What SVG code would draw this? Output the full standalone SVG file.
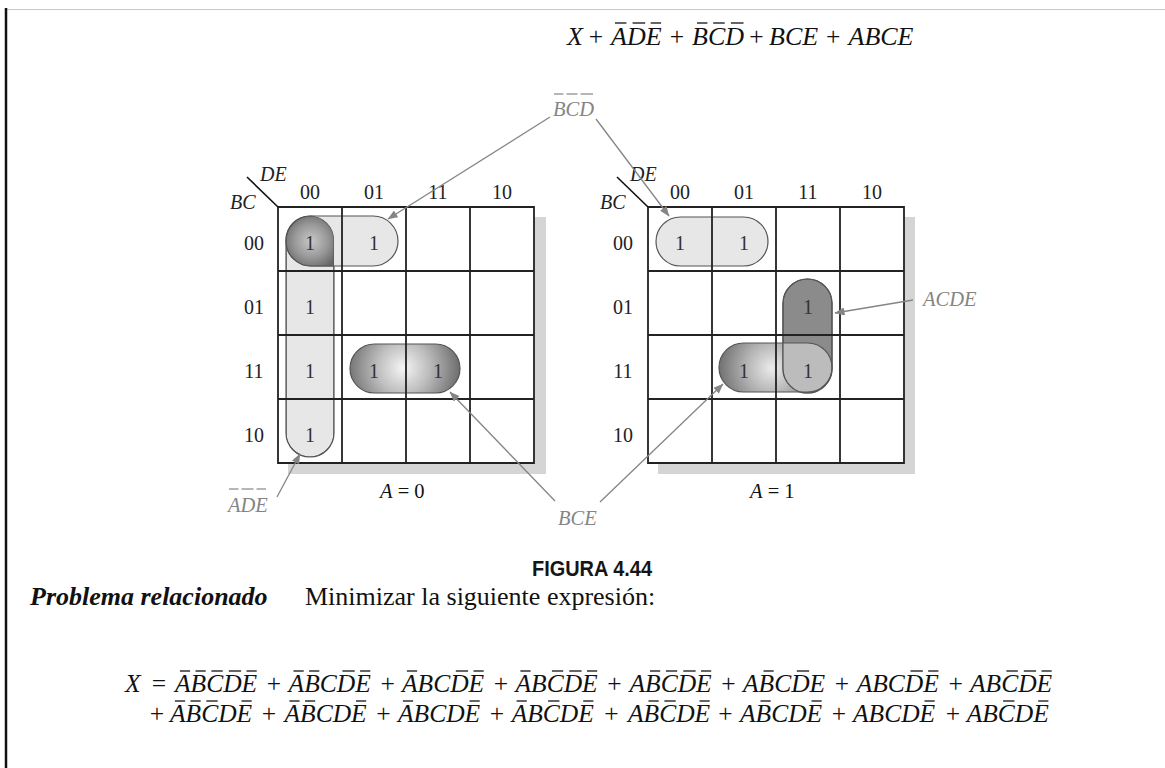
<svg xmlns="http://www.w3.org/2000/svg" width="1165" height="768" viewBox="0 0 1165 768">
<style>
.serif{font-family:"Liberation Serif","Times New Roman",serif;}
.eq{font-family:"Liberation Serif","Times New Roman",serif;font-style:italic;font-size:25.5px;fill:#111;}
.eqt{font-family:"Liberation Serif","Times New Roman",serif;font-style:italic;font-size:26px;fill:#111;}
.op{font-family:"Liberation Serif","Times New Roman",serif;font-size:25.5px;fill:#111;text-anchor:middle;}
.bar{stroke:#111;stroke-width:1.3;}
.gbar{stroke:#858585;stroke-width:1.2;}
.lbl{font-family:"Liberation Serif","Times New Roman",serif;font-size:20px;fill:#222;text-anchor:middle;}
.one{font-family:"Liberation Serif","Times New Roman",serif;font-size:20px;fill:#333;text-anchor:middle;}
.axis{font-family:"Liberation Serif","Times New Roman",serif;font-style:italic;font-size:20px;fill:#222;}
.glbl{font-family:"Liberation Serif","Times New Roman",serif;font-style:italic;font-size:20.5px;fill:#858585;}
.grid{fill:none;stroke:#222;stroke-width:1.8;}
.shadow{fill:#d5d5d5;}
.loopL{fill:#e7e7e7;stroke:#555;stroke-width:1.2;}
.edge{fill:none;stroke:#555;stroke-width:1.2;}
.conn{stroke:#858585;stroke-width:1.3;fill:none;marker-end:url(#ah);}
</style>
<defs>
<marker id="ah" viewBox="0 0 10 8" refX="9.5" refY="4" markerWidth="11" markerHeight="8" markerUnits="userSpaceOnUse" orient="auto">
<path d="M0,0 L10,4 L0,8 Z" fill="#858585"/>
</marker>
<radialGradient id="gCorner" gradientUnits="userSpaceOnUse" cx="311" cy="241" r="30">
<stop offset="0" stop-color="#c8c8c8"/><stop offset="0.55" stop-color="#999"/><stop offset="1" stop-color="#666"/>
</radialGradient>
<radialGradient id="gBceL" gradientUnits="userSpaceOnUse" cx="403" cy="368" r="58">
<stop offset="0" stop-color="#f5f5f5"/><stop offset="0.45" stop-color="#bdbdbd"/><stop offset="1" stop-color="#6a6a6a"/>
</radialGradient>
<radialGradient id="gBceR" gradientUnits="userSpaceOnUse" cx="772" cy="368" r="56">
<stop offset="0" stop-color="#ececec"/><stop offset="0.45" stop-color="#b5b5b5"/><stop offset="1" stop-color="#6a6a6a"/>
</radialGradient>
<clipPath id="clipADE"><rect x="286" y="216" width="48" height="241" rx="24"/></clipPath>
<clipPath id="clipACDE"><rect x="783" y="279" width="49" height="114" rx="24.5"/></clipPath>
</defs>
<rect x="0" y="0" width="1165" height="768" fill="#fff"/>
<line x1="6" y1="9.5" x2="1165" y2="9.5" stroke="#c8c8c8" stroke-width="1"/>
<line x1="6" y1="8" x2="6" y2="768" stroke="#111" stroke-width="2.5"/>

<g id="top-expression">
<text class="eqt" x="567" y="45">X</text>
<text class="op" x="596" y="45" font-size="26">+</text>
<text class="eqt" x="611" y="45">ADE</text>
<line class="bar" x1="615" y1="23" x2="626.4" y2="23"/><line class="bar" x1="632.6" y1="23" x2="645.2" y2="23"/><line class="bar" x1="650.7" y1="23" x2="661.1" y2="23"/>
<text class="op" x="677" y="45" font-size="26">+</text>
<text class="eqt" x="692" y="45">BCD</text>
<line class="bar" x1="697" y1="23" x2="707.4" y2="23"/><line class="bar" x1="713.2" y1="23" x2="724.7" y2="23"/><line class="bar" x1="730.9" y1="23" x2="743.5" y2="23"/>
<text class="op" x="756.5" y="45" font-size="26">+</text>
<text class="eqt" x="769" y="45">BCE</text>
<text class="op" x="833.3" y="45" font-size="26">+</text>
<text class="eqt" x="848.5" y="45">ABCE</text>
</g>

<g id="map-a0">
<rect class="shadow" x="288" y="217" width="258" height="257"/>
<rect x="278" y="207" width="256" height="256" fill="#fff"/>
<rect class="loopL" x="286" y="216" width="48" height="241" rx="24"/>
<rect class="loopL" x="286" y="216" width="112" height="50" rx="25"/>
<g clip-path="url(#clipADE)"><rect x="286" y="216" width="112" height="50" rx="25" fill="url(#gCorner)" stroke="#555" stroke-width="1.2"/></g>
<rect x="286" y="216" width="48" height="241" rx="24" class="edge" clip-path="url(#clipADE)"/>
<rect x="350" y="344" width="110" height="49" rx="24.5" fill="url(#gBceL)" stroke="#555" stroke-width="1.2"/>
<path class="grid" d="M278,207 H534 V463 H278 Z M342,207 V463 M406,207 V463 M470,207 V463 M278,271 H534 M278,335 H534 M278,399 H534"/>
<line x1="247" y1="177" x2="278" y2="207" stroke="#111" stroke-width="1.6"/>
<text class="axis" x="260" y="181">DE</text>
<text class="axis" x="230" y="209">BC</text>
<text class="lbl" x="310" y="199">00</text><text class="lbl" x="374" y="199">01</text><text class="lbl" x="438" y="199">11</text><text class="lbl" x="502" y="199">10</text>
<text class="lbl" x="254" y="250">00</text><text class="lbl" x="254" y="314">01</text><text class="lbl" x="254" y="378">11</text><text class="lbl" x="254" y="442">10</text>
<text class="one" x="310" y="250">1</text><text class="one" x="374" y="250">1</text>
<text class="one" x="310" y="314">1</text>
<text class="one" x="310" y="378">1</text><text class="one" x="374" y="378">1</text><text class="one" x="438" y="378">1</text>
<text class="one" x="310" y="442">1</text>
<text class="serif" x="380" y="498" font-size="20.5" fill="#111"><tspan font-style="italic">A</tspan> = 0</text>
</g>

<g id="map-a1">
<rect class="shadow" x="658" y="217" width="257" height="257"/>
<rect x="648" y="207" width="256" height="256" fill="#fff"/>
<rect class="loopL" x="656" y="217" width="112" height="49" rx="24.5"/>
<rect x="719" y="343" width="113" height="49" rx="24.5" fill="url(#gBceR)" stroke="#555" stroke-width="1.2"/>
<rect x="783" y="279" width="49" height="114" rx="24.5" fill="#8b8b8b" stroke="#555" stroke-width="1.2"/>
<g clip-path="url(#clipACDE)"><rect x="719" y="343" width="113" height="49" rx="24.5" fill="#bcbcbc" stroke="#555" stroke-width="1.2"/></g>
<rect x="783" y="279" width="49" height="114" rx="24.5" class="edge"/>
<path class="grid" d="M648,207 H904 V463 H648 Z M712,207 V463 M776,207 V463 M840,207 V463 M648,271 H904 M648,335 H904 M648,399 H904"/>
<line x1="617" y1="177" x2="648" y2="207" stroke="#111" stroke-width="1.6"/>
<text class="axis" x="630" y="181">DE</text>
<text class="axis" x="600" y="209">BC</text>
<text class="lbl" x="680" y="199">00</text><text class="lbl" x="744" y="199">01</text><text class="lbl" x="808" y="199">11</text><text class="lbl" x="872" y="199">10</text>
<text class="lbl" x="623" y="250">00</text><text class="lbl" x="623" y="314">01</text><text class="lbl" x="623" y="378">11</text><text class="lbl" x="623" y="442">10</text>
<text class="one" x="680" y="250">1</text><text class="one" x="744" y="250">1</text>
<text class="one" x="808" y="314">1</text>
<text class="one" x="744" y="378" fill="#707070">1</text><text class="one" x="808" y="378">1</text>
<text class="serif" x="750" y="498" font-size="20.5" fill="#111"><tspan font-style="italic">A</tspan> = 1</text>
</g>

<g id="label-bcd">
<text class="glbl" x="553" y="116">BCD</text>
<line class="gbar" x1="554" y1="94" x2="563.5" y2="94"/><line class="gbar" x1="566.5" y1="94" x2="577.5" y2="94"/><line class="gbar" x1="580.5" y1="94" x2="593" y2="94"/>
</g>
<g id="label-ade">
<text class="glbl" x="228" y="512">ADE</text>
<line class="gbar" x1="229" y1="489" x2="238.5" y2="489"/><line class="gbar" x1="241.5" y1="489" x2="253.5" y2="489"/><line class="gbar" x1="256.5" y1="489" x2="266" y2="489"/>
</g>
<g id="label-bce"><text class="glbl" x="558" y="525">BCE</text></g>
<g id="label-acde"><text class="glbl" x="923" y="306">ACDE</text></g>

<g id="connectors">
<line class="conn" x1="550" y1="117" x2="388" y2="219"/>
<line class="conn" x1="596" y1="119" x2="669" y2="216"/>
<line class="conn" x1="913" y1="300" x2="835" y2="313"/>
<line class="conn" x1="555" y1="501" x2="450" y2="392"/>
<line class="conn" x1="600" y1="502" x2="723" y2="384"/>
<line class="conn" x1="277" y1="497" x2="300" y2="454"/>
</g>

<g id="caption">
<text x="532" y="576" font-family="'Liberation Sans',Arial,sans-serif" font-weight="bold" font-size="21.5" fill="#151515" textLength="120" lengthAdjust="spacingAndGlyphs">FIGURA 4.44</text>
</g>

<g id="problem">
<text class="serif" x="30" y="605" font-size="26" font-weight="bold" font-style="italic" fill="#111">Problema relacionado</text>
<text class="serif" x="305" y="605" font-size="26" fill="#111">Minimizar la siguiente expresión:</text>
</g>

<g id="expression-line1">
<text class="eq" x="125" y="692">X</text>
<text class="op" x="159" y="692">=</text>
<g transform="translate(175,692)"><text class="eq">ABCDE</text><line class="bar" x1="4.9" y1="-21" x2="15.1" y2="-21"/><line class="bar" x1="20.5" y1="-21" x2="30.7" y2="-21"/><line class="bar" x1="36.4" y1="-21" x2="47.7" y2="-21"/><line class="bar" x1="53.8" y1="-21" x2="66.1" y2="-21"/><line class="bar" x1="71.5" y1="-21" x2="81.7" y2="-21"/></g>
<text class="op" x="274" y="692">+</text>
<g transform="translate(288.6,692)"><text class="eq">ABCDE</text><line class="bar" x1="4.9" y1="-21" x2="15.1" y2="-21"/><line class="bar" x1="20.5" y1="-21" x2="30.7" y2="-21"/><line class="bar" x1="53.8" y1="-21" x2="66.1" y2="-21"/><line class="bar" x1="71.5" y1="-21" x2="81.7" y2="-21"/></g>
<text class="op" x="387.6" y="692">+</text>
<g transform="translate(402,692)"><text class="eq">ABCDE</text><line class="bar" x1="4.9" y1="-21" x2="15.1" y2="-21"/><line class="bar" x1="53.8" y1="-21" x2="66.1" y2="-21"/><line class="bar" x1="71.5" y1="-21" x2="81.7" y2="-21"/></g>
<text class="op" x="501" y="692">+</text>
<g transform="translate(515.5,692)"><text class="eq">ABCDE</text><line class="bar" x1="4.9" y1="-21" x2="15.1" y2="-21"/><line class="bar" x1="36.4" y1="-21" x2="47.7" y2="-21"/><line class="bar" x1="53.8" y1="-21" x2="66.1" y2="-21"/><line class="bar" x1="71.5" y1="-21" x2="81.7" y2="-21"/></g>
<text class="op" x="614.5" y="692">+</text>
<g transform="translate(629.5,692)"><text class="eq">ABCDE</text><line class="bar" x1="20.5" y1="-21" x2="30.7" y2="-21"/><line class="bar" x1="36.4" y1="-21" x2="47.7" y2="-21"/><line class="bar" x1="53.8" y1="-21" x2="66.1" y2="-21"/><line class="bar" x1="71.5" y1="-21" x2="81.7" y2="-21"/></g>
<text class="op" x="728.5" y="692">+</text>
<g transform="translate(743,692)"><text class="eq">ABCDE</text><line class="bar" x1="20.5" y1="-21" x2="30.7" y2="-21"/><line class="bar" x1="53.8" y1="-21" x2="66.1" y2="-21"/></g>
<text class="op" x="842" y="692">+</text>
<g transform="translate(856.7,692)"><text class="eq">ABCDE</text><line class="bar" x1="53.8" y1="-21" x2="66.1" y2="-21"/><line class="bar" x1="71.5" y1="-21" x2="81.7" y2="-21"/></g>
<text class="op" x="955.7" y="692">+</text>
<g transform="translate(970,692)"><text class="eq">ABCDE</text><line class="bar" x1="36.4" y1="-21" x2="47.7" y2="-21"/><line class="bar" x1="53.8" y1="-21" x2="66.1" y2="-21"/><line class="bar" x1="71.5" y1="-21" x2="81.7" y2="-21"/></g>
</g>

<g id="expression-line2">
<text class="op" x="157" y="722">+</text>
<g transform="translate(170,722)"><text class="eq">ABCDE</text><line class="bar" x1="4.9" y1="-21" x2="15.1" y2="-21"/><line class="bar" x1="20.5" y1="-21" x2="30.7" y2="-21"/><line class="bar" x1="36.4" y1="-21" x2="47.7" y2="-21"/><line class="bar" x1="71.5" y1="-21" x2="81.7" y2="-21"/></g>
<text class="op" x="269" y="722">+</text>
<g transform="translate(284.5,722)"><text class="eq">ABCDE</text><line class="bar" x1="4.9" y1="-21" x2="15.1" y2="-21"/><line class="bar" x1="20.5" y1="-21" x2="30.7" y2="-21"/><line class="bar" x1="71.5" y1="-21" x2="81.7" y2="-21"/></g>
<text class="op" x="383.5" y="722">+</text>
<g transform="translate(398,722)"><text class="eq">ABCDE</text><line class="bar" x1="4.9" y1="-21" x2="15.1" y2="-21"/><line class="bar" x1="71.5" y1="-21" x2="81.7" y2="-21"/></g>
<text class="op" x="497" y="722">+</text>
<g transform="translate(511.7,722)"><text class="eq">ABCDE</text><line class="bar" x1="4.9" y1="-21" x2="15.1" y2="-21"/><line class="bar" x1="36.4" y1="-21" x2="47.7" y2="-21"/><line class="bar" x1="71.5" y1="-21" x2="81.7" y2="-21"/></g>
<text class="op" x="611.5" y="722">+</text>
<g transform="translate(628,722)"><text class="eq">ABCDE</text><line class="bar" x1="20.5" y1="-21" x2="30.7" y2="-21"/><line class="bar" x1="36.4" y1="-21" x2="47.7" y2="-21"/><line class="bar" x1="71.5" y1="-21" x2="81.7" y2="-21"/></g>
<text class="op" x="725.5" y="722">+</text>
<g transform="translate(740,722)"><text class="eq">ABCDE</text><line class="bar" x1="20.5" y1="-21" x2="30.7" y2="-21"/><line class="bar" x1="71.5" y1="-21" x2="81.7" y2="-21"/></g>
<text class="op" x="839" y="722">+</text>
<g transform="translate(853,722)"><text class="eq">ABCDE</text><line class="bar" x1="71.5" y1="-21" x2="81.7" y2="-21"/></g>
<text class="op" x="953" y="722">+</text>
<g transform="translate(966.7,722)"><text class="eq">ABCDE</text><line class="bar" x1="36.4" y1="-21" x2="47.7" y2="-21"/><line class="bar" x1="71.5" y1="-21" x2="81.7" y2="-21"/></g>
</g>
</svg>
